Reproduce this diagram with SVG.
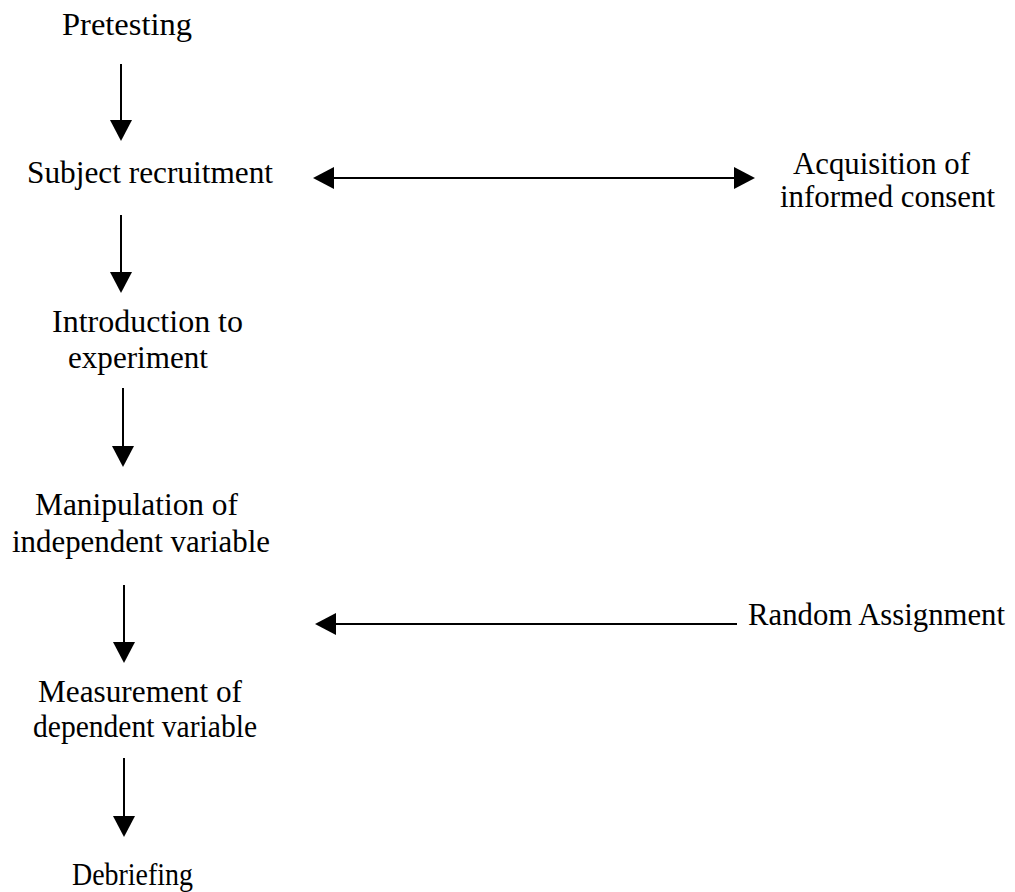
<svg xmlns="http://www.w3.org/2000/svg" width="1015" height="892" viewBox="0 0 1015 892">
<style>
text{font-family:"Liberation Serif","Times New Roman",serif;font-size:31px;fill:#000}
.c{fill:none;stroke:#000;stroke-width:2}
</style>
<defs>
<marker id="ah" viewBox="0 0 21 22" refX="0" refY="11" markerWidth="21" markerHeight="22" markerUnits="userSpaceOnUse" orient="auto-start-reverse">
<path d="M0 0 L21 11 L0 22 Z" fill="#000"/>
</marker>
</defs>
<rect width="1015" height="892" fill="#fff"/>
<g id="connectors">
<path class="c" d="M121 64 V120" marker-end="url(#ah)"/>
<path class="c" d="M121 215 V272" marker-end="url(#ah)"/>
<path class="c" d="M123 388 V446" marker-end="url(#ah)"/>
<path class="c" d="M124 585 V642" marker-end="url(#ah)"/>
<path class="c" d="M124 758 V816" marker-end="url(#ah)"/>
<path class="c" d="M334 178 H734" marker-start="url(#ah)" marker-end="url(#ah)"/>
<path class="c" d="M737 624 H336" marker-end="url(#ah)"/>
</g>
<g id="pretesting"><text x="62" y="35" textLength="130" lengthAdjust="spacingAndGlyphs">Pretesting</text></g>
<g id="recruitment"><text x="27" y="183" textLength="246" lengthAdjust="spacingAndGlyphs">Subject recruitment</text></g>
<g id="consent">
<text x="793" y="174" textLength="177" lengthAdjust="spacingAndGlyphs">Acquisition of</text>
<text x="780" y="207" textLength="215" lengthAdjust="spacingAndGlyphs">informed consent</text>
</g>
<g id="introduction">
<text x="52" y="332" textLength="191" lengthAdjust="spacingAndGlyphs">Introduction to</text>
<text x="68" y="368" textLength="140" lengthAdjust="spacingAndGlyphs">experiment</text>
</g>
<g id="manipulation">
<text x="35" y="515" textLength="203" lengthAdjust="spacingAndGlyphs">Manipulation of</text>
<text x="12" y="552" textLength="258" lengthAdjust="spacingAndGlyphs">independent variable</text>
</g>
<g id="random"><text x="748" y="625" textLength="257" lengthAdjust="spacingAndGlyphs">Random Assignment</text></g>
<g id="measurement">
<text x="38" y="702" textLength="204" lengthAdjust="spacingAndGlyphs">Measurement of</text>
<text x="33" y="737" textLength="224" lengthAdjust="spacingAndGlyphs">dependent variable</text>
</g>
<g id="debriefing"><text x="72" y="885" textLength="121" lengthAdjust="spacingAndGlyphs">Debriefing</text></g>
</svg>
